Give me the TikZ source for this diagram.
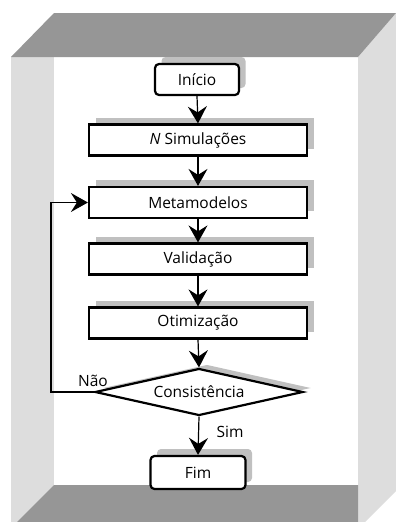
\documentclass[tikz,border=0pt]{standalone}
\usepackage{fontspec}
\setmainfont{Open Sans}
\usepackage{tikz}
\usetikzlibrary{arrows.meta,shapes.geometric,shadows}
\definecolor{framedark}{RGB}{150,150,150}
\definecolor{framelight}{RGB}{221,221,221}
\definecolor{shadegray}{RGB}{192,192,192}

\begin{document}
\begin{tikzpicture}[
    x=1pt, y=-1pt,
    font=\fontsize{15.5}{18}\selectfont,
    shade/.style={drop shadow={shadow xshift=6.5pt, shadow yshift=7pt, fill=shadegray, opacity=1}},
    stepbox/.style={draw=black, line width=2.2pt, fill=white, minimum width=218pt, minimum height=31pt, inner sep=0pt, shade},
    terminal/.style={draw=black, line width=2.2pt, fill=white, rounded corners=4pt, minimum height=31pt, inner sep=0pt, shade},
    decision/.style={draw=black, line width=2.2pt, fill=white, diamond, aspect=4.4, minimum width=208pt, minimum height=47pt, inner sep=0pt,
      drop shadow={shadow xshift=8pt, shadow yshift=4pt, fill=shadegray, opacity=1}},
    arr/.style={-{Stealth[length=17pt, width=19pt, inset=6pt]}, line width=1.2pt, draw=black}
  ]
    \useasboundingbox (0,0) rectangle (396,522);
    % frame
    \fill[framelight] (11,57) -- (358,57) -- (396,13) -- (396,491) -- (365,522) -- (11,522) -- cycle;
    \fill[white] (54,57) rectangle (358,485);
    \fill[framedark] (11,57) -- (54,13) -- (396,13) -- (358,57) -- cycle;
    \fill[framedark] (54,485) -- (358,485) -- (358,522) -- (17,522) -- cycle;

    \node[terminal, minimum width=84pt] (inicio) at (197,79.5) {Início};
    \node[stepbox] (nsim) at (198,140) {\textit{N} Simulações};
    \node[stepbox] (meta) at (198,202.5) {Metamodelos};
    \node[stepbox] (valid) at (198,259) {Validação};
    \node[stepbox] (otim) at (198,323) {Otimização};
    \node[decision] (cons) at (199,392) {Consistência};
    \node[terminal, minimum width=95pt, minimum height=33pt] (fim) at (198,472.5) {Fim};

    \node (nao) at (93,381) {Não};
    \node (sim) at (230,432) {Sim};

    \foreach \a/\b in {inicio/nsim, nsim/meta, meta/valid, valid/otim, otim/cons, cons/fim}
      \draw[arr] (\a.south) -- (\b.north);
    \draw[arr] (cons.west) -- ++(-43,0) |- (meta.west);
  \end{tikzpicture}
\end{document}
